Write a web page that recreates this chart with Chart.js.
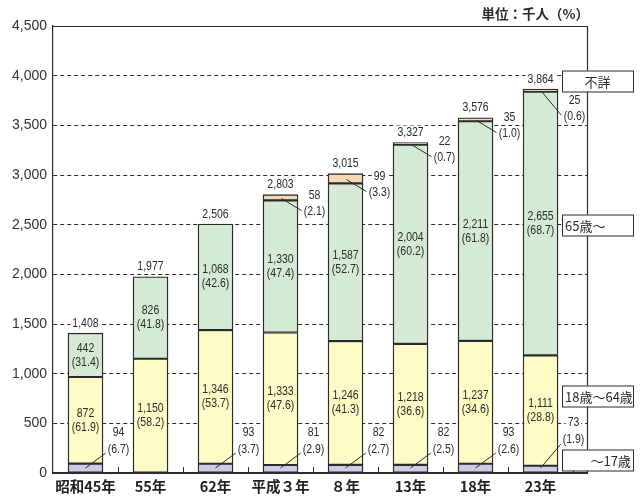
<!DOCTYPE html>
<html>
<head>
<meta charset="utf-8">
<script src="https://cdn.jsdelivr.net/npm/chart.js@4/dist/chart.umd.min.js"></script>
<style>
  html, body { margin: 0; padding: 0; background: #fff; }
  #wrap { width: 641px; height: 500px; }
</style>
</head>
<body>
<div id="wrap"><canvas id="chart"></canvas></div>
<script>
"use strict";

const years = ["昭和45年", "55年", "62年", "平成３年", "８年", "13年", "18年", "23年"];
const groupNames = ["～17歳", "18歳～64歳", "65歳～", "不詳"];
const under17 = [94, null, 93, 81, 82, 82, 93, 73];
const under17Pct = [6.7, null, 3.7, 2.9, 2.7, 2.5, 2.6, 1.9];
const adults = [872, 1150, 1346, 1333, 1246, 1218, 1237, 1111];
const adultsPct = [61.9, 58.2, 53.7, 47.6, 41.3, 36.6, 34.6, 28.8];
const seniors = [442, 826, 1068, 1330, 1587, 2004, 2211, 2655];
const seniorsPct = [31.4, 41.8, 42.6, 47.4, 52.7, 60.2, 61.8, 68.7];
const unknown = [null, null, null, 58, 99, 22, 35, 25];
const unknownPct = [null, null, null, 2.1, 3.3, 0.7, 1.0, 0.6];
const totals = [1408, 1977, 2506, 2803, 3015, 3327, 3576, 3864];
const yTicks = [0, 500, 1000, 1500, 2000, 2500, 3000, 3500, 4000, 4500];
const unitLabel = "単位：千人（%）";

const colors = ["#cfcae6", "#fdfbc6", "#d5ead5", "#f8d8b0"];
const INK = "#2b2b2b";
const NUM_FONT = '12.5px "Liberation Sans", Arial, sans-serif';
const JP_FONT = '"Noto Sans CJK JP", "Noto Sans", sans-serif';
const SQUEEZE = 0.84;

const fmt = (n) => n.toLocaleString("en-US");
const pct = (p) => `(${p.toFixed(1)})`;

// condensed number text, like the narrow face of the original
function narrowText(ctx, txt, x, y, bg) {
  const w = ctx.measureText(txt).width * SQUEEZE;
  if (bg) {
    ctx.fillStyle = "#fff";
    ctx.fillRect(x - w / 2 - 2, y - 7, w + 4, 14);
  }
  ctx.save();
  ctx.translate(x, y);
  ctx.scale(SQUEEZE, 1);
  ctx.fillStyle = INK;
  ctx.fillText(txt, 0, 0);
  ctx.restore();
}

function leader(ctx, x1, y1, x2, y2) {
  ctx.beginPath();
  ctx.moveTo(x1, y1);
  ctx.lineTo(x2, y2);
  ctx.strokeStyle = INK;
  ctx.lineWidth = 1;
  ctx.stroke();
}

const labelsPlugin = {
  id: "labels",
  afterDatasetsDraw(chart) {
    const { ctx, scales: { y } } = chart;
    const base = y.getPixelForValue(0);
    ctx.save();
    ctx.font = NUM_FONT;
    ctx.textAlign = "center";
    ctx.textBaseline = "middle";

    // values inside the adult / senior segments
    [[1, adults, adultsPct], [2, seniors, seniorsPct]].forEach(([ds, vals, pcts]) => {
      const meta = chart.getDatasetMeta(ds);
      vals.forEach((v, i) => {
        const el = meta.data[i];
        const cy = (el.y + el.base) / 2;
        narrowText(ctx, fmt(v), el.x, cy - 7);
        narrowText(ctx, pct(pcts[i]), el.x, cy + 7);
      });
    });

    // totals above bars
    totals.forEach((t, i) => {
      const el = chart.getDatasetMeta(2).data[i];
      narrowText(ctx, fmt(t), el.x, y.getPixelForValue(t) - 10, true);
    });

    // under 17, beside the bar with a leader line
    const m0 = chart.getDatasetMeta(0);
    under17.forEach((v, i) => {
      if (v == null) return;
      const cx = m0.data[i].x;
      const last = i === under17.length - 1;
      const l1 = last ? base - 50 : base - 40;
      const l2 = l1 + 17;
      leader(ctx, cx, base - 5, cx + 23, l2 + 1);
      narrowText(ctx, String(v), cx + 33, l1, true);
      narrowText(ctx, pct(under17Pct[i]), cx + 33, l2, true);
    });

    // unknown, beside the bar top with a leader line
    const m3 = chart.getDatasetMeta(3);
    unknown.forEach((v, i) => {
      if (v == null) return;
      const el = m3.data[i];
      const cx = el.x;
      const sc = (el.y + el.base) / 2;
      const last = i === unknown.length - 1;
      const l1 = last ? sc + 10 : sc - 2;
      const l2 = l1 + 16;
      leader(ctx, cx + 1, sc + 1, cx + 21, l2 - 1);
      narrowText(ctx, String(v), cx + 34, l1, true);
      narrowText(ctx, pct(unknownPct[i]), cx + 34, l2, true);
    });
    ctx.restore();
  },
  afterDraw(chart) {
    const { ctx, chartArea: a, scales: { x, y } } = chart;
    ctx.save();
    ctx.strokeStyle = INK;
    ctx.lineWidth = 1.2;
    // frame: top, right, bottom
    ctx.beginPath();
    ctx.moveTo(a.left, a.top + 0.5);
    ctx.lineTo(a.right + 0.5, a.top + 0.5);
    ctx.lineTo(a.right + 0.5, a.bottom + 0.5);
    ctx.lineTo(a.left, a.bottom + 0.5);
    ctx.stroke();
    // small inward ticks between categories
    ctx.lineWidth = 1;
    for (let i = 0; i < years.length; i++) {
      const px = Math.round(x.getPixelForValue(i + 0.5)) + 0.5;
      ctx.beginPath();
      ctx.moveTo(px, a.bottom);
      ctx.lineTo(px, a.bottom - 6);
      ctx.stroke();
    }
    // group name boxes on the right
    const anchors = [135, 775, 2500, 3950];
    const aligns = ["right", "left", "left", "center"];
    const bx = a.right - 25, bw = 71, bh = 21;
    ctx.font = `13px ${JP_FONT}`;
    ctx.textBaseline = "middle";
    groupNames.forEach((name, k) => {
      const cy = Math.round(y.getPixelForValue(anchors[k]));
      ctx.fillStyle = "#fff";
      ctx.fillRect(bx, cy - bh / 2, bw, bh);
      ctx.strokeRect(bx + 0.5, cy - bh / 2 + 0.5, bw, bh);
      ctx.fillStyle = INK;
      ctx.textAlign = aligns[k];
      const tx = aligns[k] === "left" ? bx + 3 : aligns[k] === "right" ? bx + bw - 2 : bx + bw / 2;
      ctx.fillText(name, tx, cy + 1);
    });
    // unit note
    ctx.font = `bold 13.5px ${JP_FONT}`;
    ctx.textAlign = "right";
    ctx.fillText(unitLabel, a.right + 2, 14);
    ctx.restore();
  },
};

const mkSet = (k, vals) => ({
  label: groupNames[k],
  data: vals.map((v, i) => ({ x: i, y: v })),
  backgroundColor: colors[k],
  borderColor: INK,
  borderWidth: 1.4,
  borderSkipped: false,
  barThickness: 35,
  stack: "all",
});

new Chart(document.getElementById("chart"), {
  type: "bar",
  data: {
    datasets: [mkSet(0, under17), mkSet(1, adults), mkSet(2, seniors), mkSet(3, unknown)],
  },
  options: {
    responsive: true,
    maintainAspectRatio: false,
    animation: false,
    layout: { padding: { top: 26, right: 54, left: 0, bottom: 0 } },
    plugins: { legend: { display: false }, tooltip: { enabled: false } },
    scales: {
      x: {
        type: "linear",
        offset: false,
        min: -0.5,
        max: 7.715,
        grid: { display: true, drawOnChartArea: false, drawTicks: false },
        border: { display: true, color: INK, width: 1.2 },
        afterBuildTicks: (s) => { s.ticks = years.map((_, i) => ({ value: i })); },
        afterFit: (s) => { s.height = 27; },
        ticks: {
          autoSkip: false,
          maxRotation: 0,
          padding: 5,
          color: "#222",
          font: { family: JP_FONT, size: 14.5, weight: "bold" },
          callback: (v) => years[v],
        },
      },
      y: {
        stacked: true,
        min: 0,
        max: 4500,
        afterBuildTicks: (s) => { s.ticks = yTicks.map((v) => ({ value: v })); },
        afterFit: (s) => { s.width = 53; },
        grid: {
          color: (c) => (c.tick && c.tick.value === 0 ? "rgba(0,0,0,0)" : INK),
          lineWidth: 1,
          drawTicks: false,
        },
        border: { display: true, color: INK, width: 1.2, dash: [4, 3] },
        ticks: {
          padding: 6,
          color: "#333",
          font: { family: '"Liberation Sans", Arial, sans-serif', size: 14 },
          callback: (v) => fmt(v),
        },
      },
    },
  },
  plugins: [labelsPlugin],
});
</script>
</body>
</html>
